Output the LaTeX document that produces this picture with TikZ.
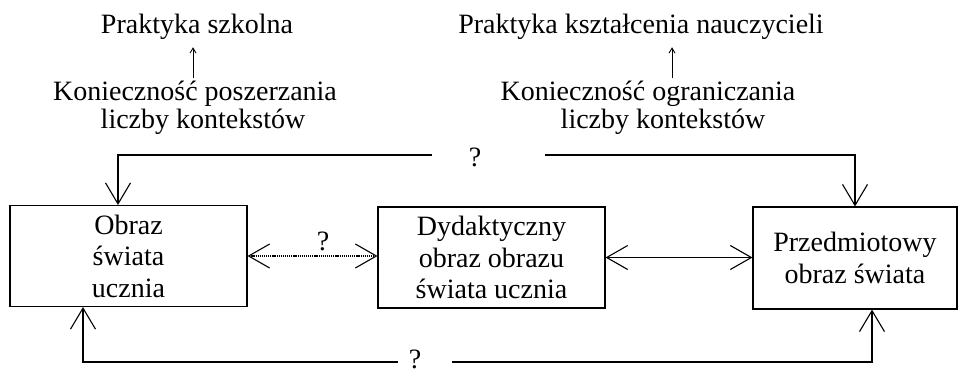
\documentclass[tikz,border=0pt]{standalone}
\usepackage{fontspec}
\setmainfont{Liberation Serif}
\usetikzlibrary{arrows.meta}
\begin{document}
\begin{tikzpicture}[x=1pt,y=-1pt,
  txt/.style={font=\fontsize{28}{31}\selectfont, inner sep=0pt, anchor=base},
  qmark/.style={font=\fontsize{28}{31}\selectfont, inner sep=0pt},
  box/.style={draw, line width=1.1pt, inner sep=0pt, align=center,
    font=\fontsize{28}{31.5}\selectfont},
  link/.style={line width=1.1pt, -{Straight Barb[length=21pt,width=25pt,line width=1.1pt]}},
  twoway/.style={line width=1.1pt,
    {Straight Barb[length=21pt,width=24pt,line width=1.1pt]}-{Straight Barb[length=21pt,width=24pt,line width=1.1pt]}},
  small/.style={line width=0.9pt, -{Straight Barb[length=5pt,width=6pt,line width=0.9pt]}}
]
\useasboundingbox (0,0) rectangle (959,373);

% upper texts, left column
\node[txt] (p1) at (197,33) {Praktyka szkolna};
\node[txt] (k1) at (195,100) {Konieczność poszerzania};
\node[txt] (l1) at (203,128) {liczby kontekstów};
\draw[small, shorten <=2pt, shorten >=8pt] ([xshift=-2pt]k1.north) -- ([xshift=-4pt]p1.south);

% upper texts, right column
\node[txt] (p2) at (641,33) {Praktyka kształcenia nauczycieli};
\node[txt] (k2) at (648,100) {Konieczność ograniczania};
\node[txt] (l2) at (663,128) {liczby kontekstów};
\draw[small, shorten <=2pt, shorten >=8pt] ([xshift=24pt]k2.north) -- ([xshift=31pt]p2.south);

% boxes
\node[box, minimum width=237pt, minimum height=101pt] (b1) at (128.5,256) {Obraz\\świata\\ucznia};
\node[box, minimum width=227pt, minimum height=101pt] (b2) at (491.5,257.5) {Dydaktyczny\\obraz obrazu\\świata ucznia};
\node[box, minimum width=204pt, minimum height=102pt] (b3) at (855,258) {Przedmiotowy\\obraz świata};

% arrows between boxes
\draw[twoway, dash pattern=on 1.2pt off 0.9pt] (b1.east) -- (b1.east -| b2.west);
\node[qmark] (q2) at (323,241) {?};
\draw[twoway] (b2.east) -- (b2.east -| b3.west);

% upper feedback line
\coordinate (tl) at (432,155);
\coordinate (tr) at (545,155);
\node[qmark] (q1) at (475,157) {?};
\draw[link] (tl) -| ([xshift=-10.5pt]b1.north);
\draw[link] (tr) -| (b3.north);

% lower feedback line
\coordinate (bl) at (398,362);
\coordinate (br) at (452,362);
\node[qmark] (q3) at (415,359) {?};
\draw[link] (bl) -| ([xshift=-45.5pt]b1.south);
\draw[link] (br) -| ([xshift=17pt]b3.south);
\end{tikzpicture}
\end{document}
